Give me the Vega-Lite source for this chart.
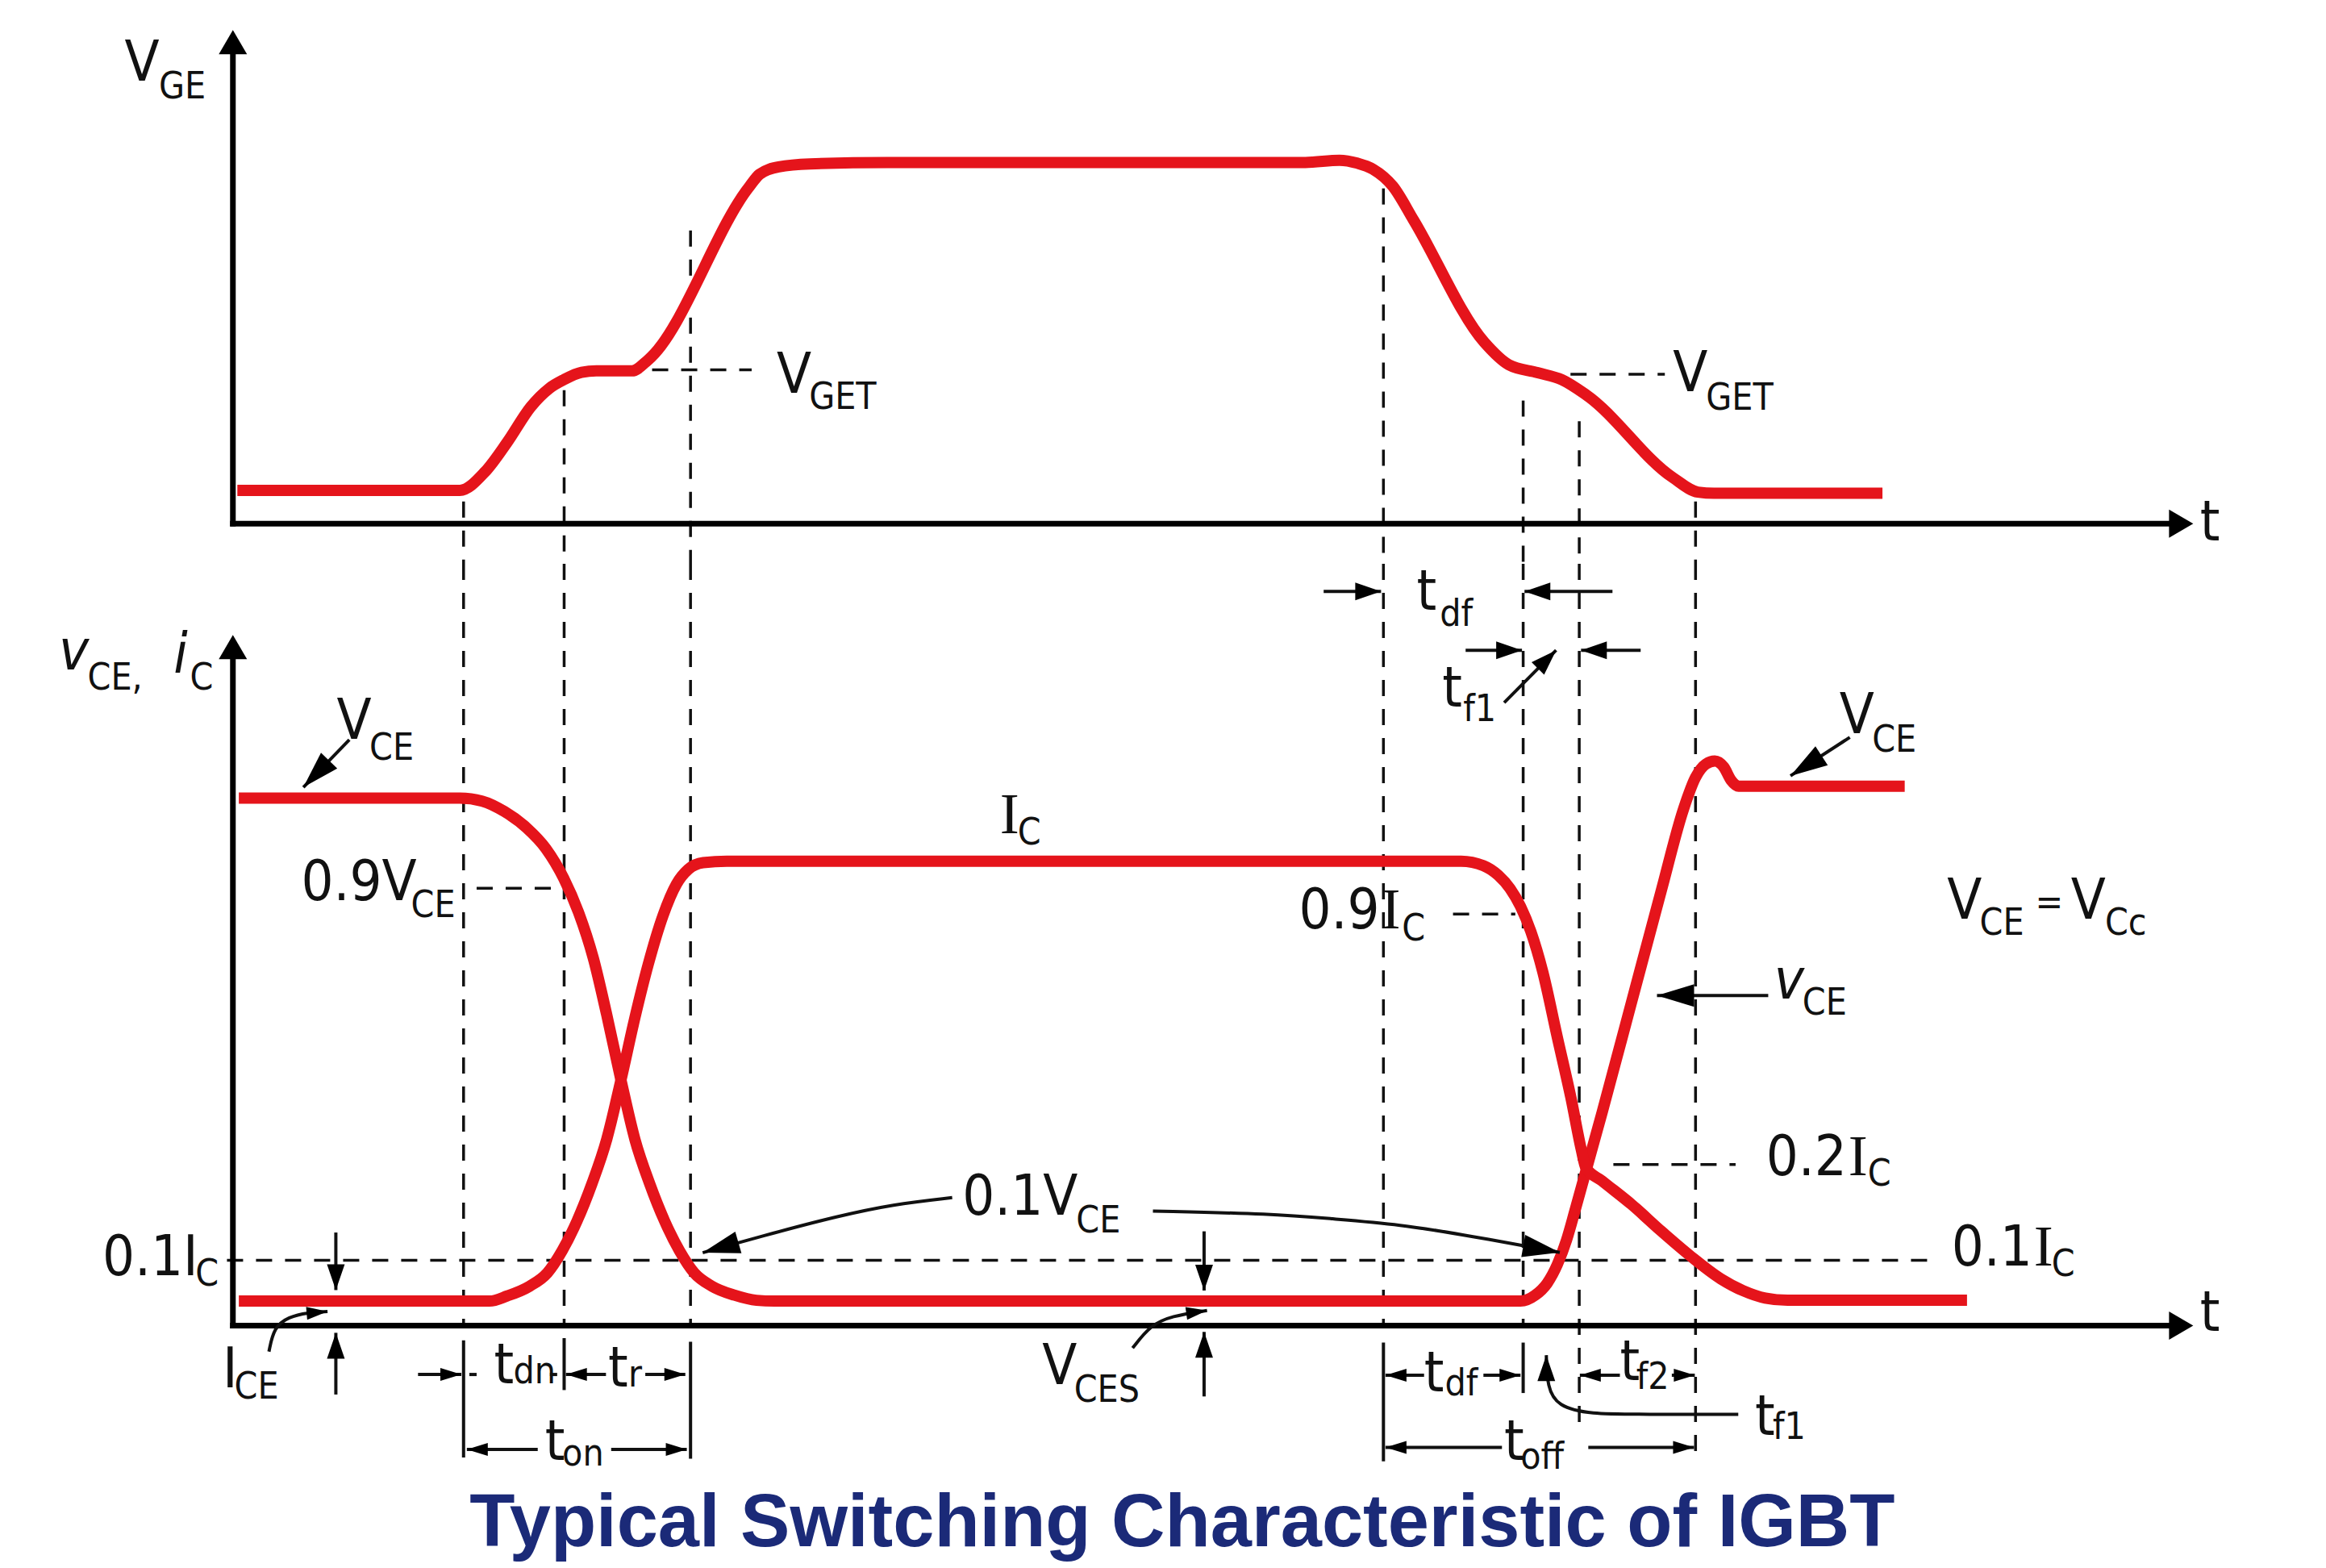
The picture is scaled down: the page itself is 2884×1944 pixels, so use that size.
{
  "$schema": "https://vega.github.io/schema/vega-lite/v6.json",
  "background": "white",
  "padding": 0,
  "spacing": 0,
  "bounds": "flush",
  "config": {"view": {"stroke": null}},
  "datasets": {
    "vge": [
      {"k":1,"t":0.3,"level":2.25},{"k":2,"t":15.3,"level":2.25},{"k":3,"t":17.0,"level":3.5},{"k":4,"t":18.5,"level":5.5},
      {"k":5,"t":20.1,"level":7.9},{"k":6,"t":21.3,"level":9.1},{"k":7,"t":22.3,"level":9.7},{"k":8,"t":23.5,"level":10.2},
      {"k":9,"t":24.5,"level":10.3},{"k":10,"t":26.9,"level":10.3},{"k":11,"t":28.0,"level":11.05},{"k":12,"t":34.8,"level":22.7},
      {"k":13,"t":35.5,"level":23.55},{"k":14,"t":36.8,"level":24.05},{"k":15,"t":38.9,"level":24.25},{"k":16,"t":44.1,"level":24.35},
      {"k":17,"t":72.3,"level":24.35},{"k":18,"t":74.6,"level":24.5},{"k":19,"t":75.8,"level":24.3},{"k":20,"t":76.85,"level":23.9},
      {"k":21,"t":78.2,"level":22.74},{"k":22,"t":79.6,"level":20.45},{"k":23,"t":84.35,"level":12.24},{"k":24,"t":86.0,"level":10.72},
      {"k":25,"t":87.95,"level":10.18},{"k":26,"t":89.6,"level":9.7},{"k":27,"t":91.26,"level":8.66},{"k":28,"t":97.08,"level":3.1},
      {"k":29,"t":98.76,"level":2.13},{"k":30,"t":99.85,"level":2.05},{"k":31,"t":111.2,"level":2.05}
    ],
    "top_dash": [
      {"t":15.55,"t2":15.55,"level":1.5,"level2":-2.704},
      {"t":22.33,"t2":22.33,"level":9.0,"level2":-2.704},
      {"t":30.85,"t2":30.85,"level":19.76,"level2":-2.704},
      {"t":77.56,"t2":77.56,"level":22.6,"level2":-2.704},
      {"t":86.98,"t2":86.98,"level":8.3,"level2":-2.704},
      {"t":90.76,"t2":90.76,"level":6.9,"level2":-2.704},
      {"t":98.6,"t2":98.6,"level":1.5,"level2":-2.704},
      {"t":28.26,"t2":34.97,"level":10.37,"level2":10.37},
      {"t":90.17,"t2":96.53,"level":10.07,"level2":10.07}
    ],
    "top_axis": [
      {"t":0,"t2":0,"level":0,"level2":32.5},
      {"t":0,"t2":130.8,"level":0,"level2":0}
    ],
    "top_heads": [
      {"t":0,"level":33.27,"heading":270},
      {"t":132.15,"level":0,"heading":0}
    ],
    "top_main": [
      {"t":-7.3,"level":29.86,"label":"V"},
      {"t":36.66,"level":8.82,"label":"V"},
      {"t":97.08,"level":8.93,"label":"V"},
      {"t":132.6,"level":-1.13,"label":"t"}
    ],
    "top_sub": [
      {"t":-4.99,"level":28.67,"label":"GE"},
      {"t":38.84,"level":7.73,"label":"GET"},
      {"t":99.3,"level":7.68,"label":"GET"}
    ],
    "curves": [
      {"series":"VCE","k":1,"t":0.4,"level":35.55},{"series":"VCE","k":2,"t":15.3,"level":35.55},{"series":"VCE","k":3,"t":16.8,"level":35.35},
      {"series":"VCE","k":4,"t":18.3,"level":34.65},{"series":"VCE","k":5,"t":19.8,"level":33.55},{"series":"VCE","k":6,"t":21.1,"level":32.15},
      {"series":"VCE","k":7,"t":22.3,"level":30.15},{"series":"VCE","k":8,"t":23.3,"level":27.85},{"series":"VCE","k":9,"t":24.3,"level":24.75},
      {"series":"VCE","k":10,"t":25.2,"level":20.95},{"series":"VCE","k":11,"t":26.16,"level":16.55},{"series":"VCE","k":12,"t":27.1,"level":12.55},
      {"series":"VCE","k":13,"t":28.1,"level":9.55},{"series":"VCE","k":14,"t":29.1,"level":7.05},{"series":"VCE","k":15,"t":30.1,"level":5.05},
      {"series":"VCE","k":16,"t":31.1,"level":3.55},{"series":"VCE","k":17,"t":32.3,"level":2.65},{"series":"VCE","k":18,"t":33.8,"level":2.05},
      {"series":"VCE","k":19,"t":35.3,"level":1.7},{"series":"VCE","k":20,"t":36.5,"level":1.65},{"series":"VCE","k":21,"t":86.8,"level":1.65},
      {"series":"VCE","k":22,"t":87.8,"level":2.05},{"series":"VCE","k":23,"t":88.6,"level":2.85},{"series":"VCE","k":24,"t":89.3,"level":4.15},
      {"series":"VCE","k":25,"t":89.9,"level":5.75},{"series":"VCE","k":26,"t":90.5,"level":7.85},{"series":"VCE","k":27,"t":92.3,"level":14.35},
      {"series":"VCE","k":28,"t":94.3,"level":21.85},{"series":"VCE","k":29,"t":96.3,"level":29.35},{"series":"VCE","k":30,"t":97.8,"level":34.85},
      {"series":"VCE","k":31,"t":98.6,"level":36.95},{"series":"VCE","k":32,"t":99.3,"level":37.85},{"series":"VCE","k":33,"t":99.9,"level":38.05},
      {"series":"VCE","k":34,"t":100.5,"level":37.65},{"series":"VCE","k":35,"t":101.0,"level":36.75},{"series":"VCE","k":36,"t":101.5,"level":36.35},
      {"series":"VCE","k":37,"t":112.7,"level":36.35},
      {"series":"IC","k":1,"t":0.4,"level":1.65},{"series":"IC","k":2,"t":17.3,"level":1.65},{"series":"IC","k":3,"t":18.5,"level":2.0},
      {"series":"IC","k":4,"t":20.0,"level":2.65},{"series":"IC","k":5,"t":21.2,"level":3.55},{"series":"IC","k":6,"t":22.2,"level":5.05},
      {"series":"IC","k":7,"t":23.2,"level":7.05},{"series":"IC","k":8,"t":24.2,"level":9.55},{"series":"IC","k":9,"t":25.2,"level":12.55},
      {"series":"IC","k":10,"t":26.16,"level":16.55},{"series":"IC","k":11,"t":27.1,"level":20.75},{"series":"IC","k":12,"t":28.0,"level":24.35},
      {"series":"IC","k":13,"t":29.0,"level":27.65},{"series":"IC","k":14,"t":29.9,"level":29.75},{"series":"IC","k":15,"t":30.7,"level":30.75},
      {"series":"IC","k":16,"t":31.7,"level":31.2},{"series":"IC","k":17,"t":33.3,"level":31.3},{"series":"IC","k":18,"t":82.8,"level":31.3},
      {"series":"IC","k":19,"t":84.3,"level":31.0},{"series":"IC","k":20,"t":85.3,"level":30.35},{"series":"IC","k":21,"t":86.1,"level":29.45},
      {"series":"IC","k":22,"t":86.8,"level":28.25},{"series":"IC","k":23,"t":87.5,"level":26.55},{"series":"IC","k":24,"t":88.3,"level":23.85},
      {"series":"IC","k":25,"t":89.3,"level":19.35},{"series":"IC","k":26,"t":90.2,"level":15.35},{"series":"IC","k":27,"t":90.9,"level":11.85},
      {"series":"IC","k":28,"t":91.2,"level":10.65},{"series":"IC","k":29,"t":92.3,"level":9.75},{"series":"IC","k":30,"t":94.3,"level":8.15},
      {"series":"IC","k":31,"t":96.3,"level":6.35},{"series":"IC","k":32,"t":98.3,"level":4.65},{"series":"IC","k":33,"t":100.3,"level":3.15},
      {"series":"IC","k":34,"t":101.8,"level":2.35},{"series":"IC","k":35,"t":103.3,"level":1.85},{"series":"IC","k":36,"t":104.8,"level":1.7},
      {"series":"IC","k":37,"t":116.9,"level":1.7}
    ],
    "bot_dash": [
      {"t":15.55,"t2":15.55,"level":51.346,"level2":0},
      {"t":22.33,"t2":22.33,"level":51.346,"level2":0},
      {"t":30.85,"t2":30.85,"level":51.346,"level2":0},
      {"t":77.56,"t2":77.56,"level":51.346,"level2":0},
      {"t":86.98,"t2":86.98,"level":51.346,"level2":0},
      {"t":90.76,"t2":90.76,"level":51.346,"level2":-7.15},
      {"t":98.6,"t2":98.6,"level":51.346,"level2":-9.15},
      {"t":16.43,"t2":21.7,"level":29.48,"level2":29.48},
      {"t":82.25,"t2":86.45,"level":27.74,"level2":27.74},
      {"t":93.06,"t2":101.3,"level":10.85,"level2":10.85},
      {"t":-0.4,"t2":114.4,"level":4.4,"level2":4.4}
    ],
    "bot_axis": [
      {"t":0,"t2":0,"level":0,"level2":45.0},
      {"t":0,"t2":130.8,"level":0,"level2":0}
    ],
    "thin_lines": [
      {"t":15.55,"t2":15.55,"level":-1.0,"level2":-8.9},
      {"t":22.33,"t2":22.33,"level":-0.85,"level2":-4.35},
      {"t":30.85,"t2":30.85,"level":-1.1,"level2":-8.98},
      {"t":77.56,"t2":77.56,"level":-1.15,"level2":-9.15},
      {"t":86.98,"t2":86.98,"level":-1.15,"level2":-4.55},
      {"t":15.94,"t2":16.43,"level":-3.3,"level2":-3.3},
      {"t":21.37,"t2":21.86,"level":-3.3,"level2":-3.3},
      {"t":7.85,"t2":4.75,"level":39.49,"level2":36.28},
      {"t":109.0,"t2":105.0,"level":39.65,"level2":37.05},
      {"t":103.5,"t2":96.0,"level":22.25,"level2":22.25},
      {"t":85.7,"t2":89.2,"level":41.99,"level2":45.52},
      {"t":73.53,"t2":77.4,"level":49.49,"level2":49.49},
      {"t":93.0,"t2":87.07,"level":49.49,"level2":49.49},
      {"t":83.1,"t2":86.9,"level":45.52,"level2":45.52},
      {"t":94.9,"t2":90.88,"level":45.52,"level2":45.52},
      {"t":6.94,"t2":6.94,"level":6.27,"level2":2.39},
      {"t":6.94,"t2":6.94,"level":-4.65,"level2":-0.49},
      {"t":65.47,"t2":65.47,"level":6.35,"level2":2.36},
      {"t":65.47,"t2":65.47,"level":-4.78,"level2":-0.43},
      {"t":12.48,"t2":15.4,"level":-3.3,"level2":-3.3},
      {"t":25.15,"t2":22.45,"level":-3.3,"level2":-3.3},
      {"t":27.8,"t2":30.5,"level":-3.3,"level2":-3.3},
      {"t":20.55,"t2":15.77,"level":-8.35,"level2":-8.35},
      {"t":25.5,"t2":30.6,"level":-8.35,"level2":-8.35},
      {"t":80.3,"t2":77.7,"level":-3.35,"level2":-3.35},
      {"t":84.3,"t2":86.8,"level":-3.35,"level2":-3.35},
      {"t":93.5,"t2":90.8,"level":-3.35,"level2":-3.35},
      {"t":97.0,"t2":98.55,"level":-3.35,"level2":-3.35},
      {"t":85.55,"t2":77.7,"level":-8.21,"level2":-8.21},
      {"t":91.37,"t2":98.5,"level":-8.21,"level2":-8.21}
    ],
    "arrow_curves": [
      {"id":"a9","k":1,"t":48.49,"level":8.62},{"id":"a9","k":2,"t":44.5,"level":8.17},{"id":"a9","k":3,"t":40.68,"level":7.35},
      {"id":"a9","k":4,"t":36.52,"level":6.26},{"id":"a9","k":5,"t":31.67,"level":4.91},
      {"id":"a10","k":1,"t":62.02,"level":7.72},{"id":"a10","k":2,"t":70.15,"level":7.53},{"id":"a10","k":3,"t":74.0,"level":7.2},
      {"id":"a10","k":4,"t":78.69,"level":6.82},{"id":"a10","k":5,"t":83.36,"level":6.05},{"id":"a10","k":6,"t":89.45,"level":4.93},
      {"id":"a11","k":1,"t":2.43,"level":-1.76},{"id":"a11","k":2,"t":2.76,"level":-0.13},{"id":"a11","k":3,"t":3.75,"level":0.59},
      {"id":"a11","k":4,"t":5.07,"level":0.87},{"id":"a11","k":5,"t":6.38,"level":0.95},
      {"id":"a12","k":1,"t":60.65,"level":-1.52},{"id":"a12","k":2,"t":61.84,"level":0.01},{"id":"a12","k":3,"t":63.25,"level":0.64},
      {"id":"a12","k":4,"t":65.67,"level":1.01},
      {"id":"a28","k":1,"t":101.48,"level":-5.98},{"id":"a28","k":2,"t":95.0,"level":-5.98},{"id":"a28","k":3,"t":91.5,"level":-5.98},
      {"id":"a28","k":4,"t":89.3,"level":-5.45},{"id":"a28","k":5,"t":88.6,"level":-4.15},{"id":"a28","k":6,"t":88.54,"level":-2.0}
    ],
    "heads_axis": [
      {"t":0,"level":46.55,"heading":270},
      {"t":132.15,"level":0,"heading":0}
    ],
    "heads_big": [
      {"t":4.75,"level":36.28,"heading":134},
      {"t":105.0,"level":37.05,"heading":147},
      {"t":96.0,"level":22.25,"heading":180},
      {"t":31.67,"level":4.91,"heading":164},
      {"t":89.45,"level":4.93,"heading":10}
    ],
    "heads_mid": [
      {"t":89.2,"level":45.52,"heading":-45},
      {"t":77.4,"level":49.49,"heading":0},
      {"t":87.07,"level":49.49,"heading":180},
      {"t":86.9,"level":45.52,"heading":0},
      {"t":90.88,"level":45.52,"heading":180},
      {"t":88.54,"level":-2.0,"heading":270},
      {"t":6.94,"level":2.39,"heading":90},
      {"t":6.94,"level":-0.49,"heading":270},
      {"t":65.47,"level":2.36,"heading":90},
      {"t":65.47,"level":-0.43,"heading":270}
    ],
    "heads_small": [
      {"t":6.38,"level":0.95,"heading":-5},
      {"t":65.67,"level":1.01,"heading":-8},
      {"t":15.4,"level":-3.3,"heading":0},
      {"t":22.45,"level":-3.3,"heading":180},
      {"t":30.5,"level":-3.3,"heading":0},
      {"t":15.77,"level":-8.35,"heading":180},
      {"t":30.6,"level":-8.35,"heading":0},
      {"t":77.7,"level":-3.35,"heading":180},
      {"t":86.8,"level":-3.35,"heading":0},
      {"t":90.8,"level":-3.35,"heading":180},
      {"t":98.55,"level":-3.35,"heading":0},
      {"t":77.7,"level":-8.21,"heading":180},
      {"t":98.5,"level":-8.21,"heading":0}
    ],
    "bot_main": [
      {"t":7.0,"level":39.55,"label":"V"},
      {"t":4.6,"level":28.65,"label":"0.9V"},
      {"t":49.17,"level":7.45,"label":"0.1V"},
      {"t":54.56,"level":-3.95,"label":"V"},
      {"t":-0.7,"level":-4.15,"label":"I"},
      {"t":-8.8,"level":3.38,"label":"0.1I"},
      {"t":108.3,"level":39.95,"label":"V"},
      {"t":115.56,"level":27.45,"label":"V"},
      {"t":123.9,"level":27.45,"label":"V"},
      {"t":79.8,"level":48.25,"label":"t"},
      {"t":81.53,"level":41.72,"label":"t"},
      {"t":17.6,"level":-3.91,"label":"t"},
      {"t":25.3,"level":-4.11,"label":"t"},
      {"t":21.04,"level":-9.05,"label":"t"},
      {"t":80.3,"level":-4.45,"label":"t"},
      {"t":93.5,"level":-3.65,"label":"t"},
      {"t":102.6,"level":-7.35,"label":"t"},
      {"t":85.7,"level":-9.05,"label":"t"},
      {"t":132.6,"level":-0.35,"label":"t"}
    ],
    "bot_main_right": [
      {"t":77.3,"level":26.76,"label":"0.9"},
      {"t":108.8,"level":10.15,"label":"0.2"},
      {"t":121.3,"level":4.05,"label":"0.1"}
    ],
    "bot_serif": [
      {"t":51.7,"level":33.18,"label":"I"},
      {"t":77.4,"level":26.76,"label":"I"},
      {"t":108.9,"level":10.15,"label":"I"},
      {"t":121.4,"level":4.05,"label":"I"}
    ],
    "bot_sub": [
      {"t":9.2,"level":38.15,"label":"CE"},
      {"t":12.0,"level":27.55,"label":"CE"},
      {"t":56.84,"level":6.25,"label":"CE"},
      {"t":56.7,"level":-5.15,"label":"CES"},
      {"t":0.1,"level":-4.91,"label":"CE"},
      {"t":-2.53,"level":2.67,"label":"C"},
      {"t":110.5,"level":38.67,"label":"CE"},
      {"t":117.75,"level":26.35,"label":"CE"},
      {"t":126.2,"level":26.35,"label":"Cc"},
      {"t":121.5,"level":27.7,"label":"="},
      {"t":105.8,"level":20.95,"label":"CE"},
      {"t":52.9,"level":32.45,"label":"C"},
      {"t":78.8,"level":25.95,"label":"C"},
      {"t":110.2,"level":9.45,"label":"C"},
      {"t":122.6,"level":3.35,"label":"C"},
      {"t":81.36,"level":47.15,"label":"df"},
      {"t":82.94,"level":40.75,"label":"f1"},
      {"t":18.9,"level":-3.9,"label":"dn"},
      {"t":26.65,"level":-4.11,"label":"r"},
      {"t":22.2,"level":-9.45,"label":"on"},
      {"t":81.7,"level":-4.72,"label":"df"},
      {"t":94.6,"level":-4.25,"label":"f2"},
      {"t":103.8,"level":-7.65,"label":"f1"},
      {"t":86.8,"level":-9.65,"label":"off"},
      {"t":-9.8,"level":42.85,"label":"CE,"},
      {"t":-2.9,"level":42.85,"label":"C"}
    ],
    "bot_italic": [
      {"t":-11.73,"level":44.25,"label":"v"},
      {"t":-4.0,"level":44.0,"label":"i"},
      {"t":103.9,"level":22.05,"label":"v"}
    ],
    "title": [
      {"t":64.0,"level":-14.9,"label":"Typical Switching Characteristic of IGBT"}
    ]
  },
  "vconcat": [
    {
      "width": 2884,
      "height": 699,
      "encoding": {
        "x": {"field":"t","type":"quantitative","scale":{"domain":[-15.7,141.1],"nice":false,"zero":false},"axis":null},
        "y": {"field":"level","type":"quantitative","scale":{"domain":[-2.704,35.3],"nice":false,"zero":false},"axis":null}
      },
      "layer": [
        {"data":{"name":"top_dash"},"mark":{"type":"rule","strokeDash":[20,16],"strokeWidth":3.5,"color":"#111111"},
         "encoding":{"x2":{"field":"t2"},"y2":{"field":"level2"}}},
        {"data":{"name":"top_axis"},"mark":{"type":"rule","strokeWidth":7,"color":"#000000","strokeCap":"square"},
         "encoding":{"x2":{"field":"t2"},"y2":{"field":"level2"}}},
        {"data":{"name":"vge"},"mark":{"type":"line","color":"#e5141b","strokeWidth":14,"interpolate":"monotone","strokeJoin":"round"},
         "encoding":{"order":{"field":"k","type":"quantitative"}}},
        {"data":{"name":"top_heads"},"mark":{"type":"point","shape":"M0,0L-1.714,-1L-1.714,1Z","size":1225,"filled":true,"opacity":1,"color":"#000000","strokeWidth":0},
         "encoding":{"angle":{"field":"heading","type":"quantitative","scale":null}}},
        {"data":{"name":"top_main"},"mark":{"type":"text","align":"left","baseline":"alphabetic","font":"DejaVu Sans Condensed, sans-serif","fontSize":70,"color":"#111111"},
         "encoding":{"text":{"field":"label"}}},
        {"data":{"name":"top_sub"},"mark":{"type":"text","align":"left","baseline":"alphabetic","font":"DejaVu Sans Condensed, sans-serif","fontSize":46,"color":"#111111"},
         "encoding":{"text":{"field":"label"}}}
      ]
    },
    {
      "width": 2884,
      "height": 1245,
      "encoding": {
        "x": {"field":"t","type":"quantitative","scale":{"domain":[-15.7,141.1],"nice":false,"zero":false},"axis":null},
        "y": {"field":"level","type":"quantitative","scale":{"domain":[-16.344,51.346],"nice":false,"zero":false},"axis":null}
      },
      "layer": [
        {"data":{"name":"bot_dash"},"mark":{"type":"rule","strokeDash":[20,16],"strokeWidth":3.5,"color":"#111111"},
         "encoding":{"x2":{"field":"t2"},"y2":{"field":"level2"}}},
        {"data":{"name":"thin_lines"},"mark":{"type":"rule","strokeWidth":4,"color":"#111111"},
         "encoding":{"x2":{"field":"t2"},"y2":{"field":"level2"}}},
        {"data":{"name":"bot_axis"},"mark":{"type":"rule","strokeWidth":7,"color":"#000000","strokeCap":"square"},
         "encoding":{"x2":{"field":"t2"},"y2":{"field":"level2"}}},
        {"data":{"name":"curves"},"mark":{"type":"line","color":"#e5141b","strokeWidth":14,"interpolate":"monotone","strokeJoin":"round"},
         "encoding":{"detail":{"field":"series"},"order":{"field":"k","type":"quantitative"}}},
        {"data":{"name":"arrow_curves"},"mark":{"type":"line","color":"#111111","strokeWidth":4,"interpolate":"basis"},
         "encoding":{"detail":{"field":"id"},"order":{"field":"k","type":"quantitative"}}},
        {"data":{"name":"heads_axis"},"mark":{"type":"point","shape":"M0,0L-1.714,-1L-1.714,1Z","size":1225,"filled":true,"opacity":1,"color":"#000000","strokeWidth":0},
         "encoding":{"angle":{"field":"heading","type":"quantitative","scale":null}}},
        {"data":{"name":"heads_big"},"mark":{"type":"point","shape":"M0,0L-3.286,-1L-3.286,1Z","size":784,"filled":true,"opacity":1,"color":"#000000","strokeWidth":0},
         "encoding":{"angle":{"field":"heading","type":"quantitative","scale":null}}},
        {"data":{"name":"heads_mid"},"mark":{"type":"point","shape":"M0,0L-2.909,-1L-2.909,1Z","size":484,"filled":true,"opacity":1,"color":"#000000","strokeWidth":0},
         "encoding":{"angle":{"field":"heading","type":"quantitative","scale":null}}},
        {"data":{"name":"heads_small"},"mark":{"type":"point","shape":"M0,0L-3.25,-1L-3.25,1Z","size":256,"filled":true,"opacity":1,"color":"#000000","strokeWidth":0},
         "encoding":{"angle":{"field":"heading","type":"quantitative","scale":null}}},
        {"data":{"name":"bot_main"},"mark":{"type":"text","align":"left","baseline":"alphabetic","font":"DejaVu Sans Condensed, sans-serif","fontSize":70,"color":"#111111"},
         "encoding":{"text":{"field":"label"}}},
        {"data":{"name":"bot_main_right"},"mark":{"type":"text","align":"right","baseline":"alphabetic","font":"DejaVu Sans Condensed, sans-serif","fontSize":70,"color":"#111111"},
         "encoding":{"text":{"field":"label"}}},
        {"data":{"name":"bot_serif"},"mark":{"type":"text","align":"left","baseline":"alphabetic","font":"Liberation Serif, Times New Roman, serif","fontSize":72,"color":"#111111"},
         "encoding":{"text":{"field":"label"}}},
        {"data":{"name":"bot_sub"},"mark":{"type":"text","align":"left","baseline":"alphabetic","font":"DejaVu Sans Condensed, sans-serif","fontSize":46,"color":"#111111"},
         "encoding":{"text":{"field":"label"}}},
        {"data":{"name":"bot_italic"},"mark":{"type":"text","align":"left","baseline":"alphabetic","font":"DejaVu Sans Condensed, sans-serif","fontStyle":"italic","fontSize":70,"color":"#111111"},
         "encoding":{"text":{"field":"label"}}},
        {"data":{"name":"title"},"mark":{"type":"text","align":"center","baseline":"alphabetic","font":"Liberation Sans, Arial, sans-serif","fontWeight":"bold","fontSize":92,"color":"#1b2a78"},
         "encoding":{"text":{"field":"label"}}}
      ]
    }
  ]
}
